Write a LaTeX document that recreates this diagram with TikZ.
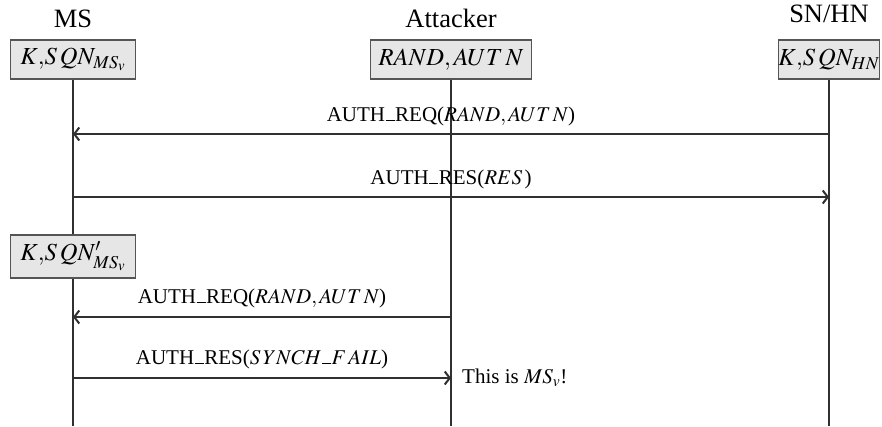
\documentclass[tikz,border=0pt]{standalone}
\usepackage{mathptmx}
\usepackage[no-math]{fontspec}
\setmainfont{Liberation Serif}
\usetikzlibrary{arrows.meta}
\definecolor{linec}{HTML}{303030}
\definecolor{boxdraw}{HTML}{555555}
\definecolor{boxfill}{HTML}{E6E6E6}
\newcommand\ubar{\kern0.03em\rule[0em]{0.42em}{0.055em}\kern0.03em}
\begin{document}
\begin{tikzpicture}[x=1pt,y=-1pt,font=\fontsize{21}{24}\selectfont,
  stbox/.style={draw=boxdraw,fill=boxfill,line width=1.4pt,minimum height=39pt,inner sep=0pt,font=\fontsize{24.5}{28}\selectfont},
  lifeline/.style={draw=linec,line width=2.8pt},
  msg/.style={draw=linec,line width=2.8pt,-{Straight Barb[length=5pt,width=13pt,line width=2pt]}},
  ttl/.style={anchor=base,inner sep=0pt,font=\fontsize{26.5}{30}\selectfont},
  lbl/.style={inner sep=0pt}]
\useasboundingbox (0,0) rectangle (882,426);
% titles
\node[ttl] (tms) at (73,27) {MS};
\node[ttl] (tat) at (451,27) {Attacker};
\node[ttl] (tsn) at (829,22) {SN/HN};
% lifeline ends
\coordinate (ems) at (73,426);
\coordinate (eat) at (451,426);
\coordinate (esn) at (829,426);
% boxes
\node[stbox,minimum width=125pt] (bms) at (73,59.5) {$K{,}S\,QN_{MS_v}$};
\node[stbox,minimum width=161pt] (bat) at (451,59.5) {$RAND, AUT\,N$};
\node[stbox,minimum width=98pt] (bsn) at (829,59.5) {$K{,}S\,QN_{HN}$};
% lifelines
\draw[lifeline] (bms.south) -- (ems);
\draw[lifeline] (bat.south) -- (eat);
\draw[lifeline] (bsn.south) -- (esn);
% second MS box
\node[stbox,minimum width=125pt,minimum height=43pt] (bms2) at (73,256.5) {$K{,}S\,QN'_{MS_v}$};
% message points
\coordinate (m1s) at (829,134);
\coordinate (m1e) at (73,134);
\coordinate (m2s) at (73,197);
\coordinate (m2e) at (829,197);
\coordinate (m3s) at (451,317);
\coordinate (m3e) at (73,317);
\coordinate (m4s) at (73,378);
\coordinate (m4e) at (451,378);
\draw[msg] (m1s) -- (m1e);
\draw[msg] (m2s) -- (m2e);
\draw[msg] (m3s) -- (m3e);
\draw[msg] (m4s) -- (m4e);
% labels
\node[lbl] (l1) at (451,116) {AUTH\ubar REQ($RAND, AUT\,N$)};
\node[lbl] (l2) at (451,179) {AUTH\ubar RES($RES\,$)};
\node[lbl] (l3) at (262,298) {AUTH\ubar REQ($RAND, AUT\,N$)};
\node[lbl] (l4) at (262,359) {AUTH\ubar RES($S\,YNCH\mbox{\ubar}F\,AIL$)};
\node[lbl,anchor=west] (l5) at (462,378) {This is $MS_v$!};
\end{tikzpicture}
\end{document}
